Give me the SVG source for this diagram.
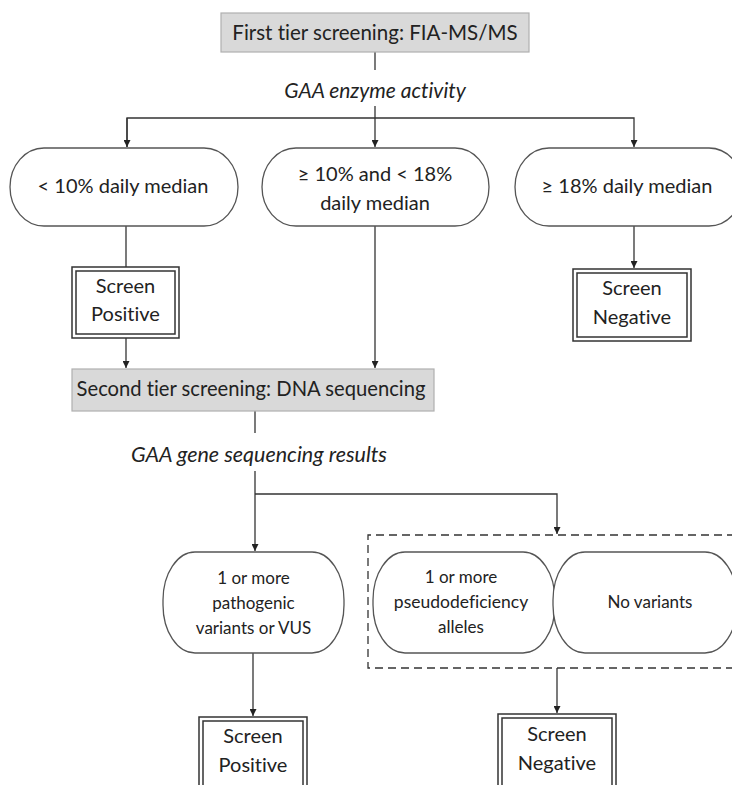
<svg xmlns="http://www.w3.org/2000/svg" width="732" height="785" viewBox="0 0 732 785">
<style>
  .t{font-family:Lato,"Liberation Sans",sans-serif;fill:#222;text-anchor:middle;font-variant-ligatures:none}
  .hdr{fill:#d9d9d9;stroke:#b0b0b0;stroke-width:1.2}
  .oval{fill:#fff;stroke:#555;stroke-width:1.3}
  .dbl{fill:#fff;stroke:#333;stroke-width:1.5}
  .ln{fill:none;stroke:#333;stroke-width:1.3}
  .it{font-style:italic}
</style>
<defs>
  <marker id="ah" viewBox="0 0 10 10" refX="10" refY="5" markerWidth="7" markerHeight="7" markerUnits="userSpaceOnUse" orient="auto">
    <path d="M0,0 L10,5 L0,10 z" fill="#222"/>
  </marker>
</defs>
<rect width="732" height="785" fill="#fff"/>

<g id="connectors">
  <line class="ln" x1="375" y1="52" x2="375" y2="70"/>
  <line class="ln" x1="375" y1="106" x2="375" y2="118"/>
  <polyline class="ln" points="127,147 127,118 634,118 634,147" marker-end="url(#ah)"/>
  <line class="ln" x1="127" y1="118" x2="127" y2="147" marker-end="url(#ah)"/>
  <line class="ln" x1="375" y1="118" x2="375" y2="147" marker-end="url(#ah)"/>
  <line class="ln" x1="126" y1="226" x2="126" y2="267"/>
  <line class="ln" x1="126" y1="338" x2="126" y2="368" marker-end="url(#ah)"/>
  <line class="ln" x1="375" y1="226" x2="375" y2="368" marker-end="url(#ah)"/>
  <line class="ln" x1="634" y1="226" x2="634" y2="268" marker-end="url(#ah)"/>
  <line class="ln" x1="255" y1="411" x2="255" y2="433"/>
  <line class="ln" x1="255" y1="471" x2="255" y2="551" marker-end="url(#ah)"/>
  <polyline class="ln" points="255,494 557,494 557,534" marker-end="url(#ah)"/>
  <line class="ln" x1="253" y1="653" x2="253" y2="716" marker-end="url(#ah)"/>
  <line class="ln" x1="557" y1="668" x2="557" y2="713" marker-end="url(#ah)"/>
</g>

<g id="first-tier">
  <rect class="hdr" x="221" y="13" width="308" height="39"/>
  <text class="t" x="375" y="40" font-size="20.5">First tier screening: FIA-MS/MS</text>
</g>
<g id="label-enzyme">
  <text class="t it" x="375" y="98" font-size="21">GAA enzyme activity</text>
</g>

<g id="lt10">
  <rect class="oval" x="10" y="148" width="228" height="78" rx="34" ry="39"/>
  <text class="t" x="123" y="193" font-size="20">&lt; 10% daily median</text>
</g>
<g id="mid">
  <rect class="oval" x="262" y="148" width="227" height="78" rx="34" ry="39"/>
  <text class="t" x="375" y="181" font-size="20">≥ 10% and &lt; 18%</text>
  <text class="t" x="375" y="210" font-size="20">daily median</text>
</g>
<g id="ge18">
  <rect class="oval" x="515" y="148" width="228" height="78" rx="34" ry="39"/>
  <text class="t" x="627" y="193" font-size="20">≥ 18% daily median</text>
</g>

<g id="screen-pos-1">
  <rect class="dbl" x="72" y="267" width="107" height="71"/>
  <rect class="dbl" x="76" y="271" width="99" height="63" stroke-width="1"/>
  <text class="t" x="125.5" y="293" font-size="20">Screen</text>
  <text class="t" x="125.5" y="321" font-size="20">Positive</text>
</g>
<g id="screen-neg-1">
  <rect class="dbl" x="573" y="269" width="118" height="72"/>
  <rect class="dbl" x="577" y="273" width="110" height="64" stroke-width="1"/>
  <text class="t" x="632" y="295" font-size="20">Screen</text>
  <text class="t" x="632" y="324" font-size="20">Negative</text>
</g>

<g id="second-tier">
  <rect class="hdr" x="72" y="369" width="362" height="42"/>
  <text class="t" x="251" y="396" font-size="20.2">Second tier screening: DNA sequencing</text>
</g>
<g id="label-gene">
  <text class="t it" x="259" y="462" font-size="21.5">GAA gene sequencing results</text>
</g>

<g id="group-neg">
  <path d="M735,535 L368,535 L368,668 L735,668" fill="none" stroke="#333" stroke-width="1.3" stroke-dasharray="8,5"/>
</g>

<g id="pathogenic">
  <rect class="oval" x="163" y="552" width="181" height="101" rx="32" ry="48"/>
  <text class="t" x="253.5" y="584" font-size="17">1 or more</text>
  <text class="t" x="253.5" y="609" font-size="17">pathogenic</text>
  <text class="t" x="253.5" y="634" font-size="17">variants or VUS</text>
</g>
<g id="pseudo">
  <rect class="oval" x="373" y="552" width="182" height="101" rx="32" ry="48"/>
  <text class="t" x="461" y="583" font-size="17">1 or more</text>
  <text class="t" x="461" y="608" font-size="17.5">pseudodeficiency</text>
  <text class="t" x="461" y="633" font-size="17">alleles</text>
</g>
<g id="novariants">
  <rect class="oval" x="553" y="552" width="184" height="101" rx="32" ry="48"/>
  <text class="t" x="650" y="608" font-size="17">No variants</text>
</g>

<g id="screen-pos-2">
  <rect class="dbl" x="199" y="717" width="108" height="75"/>
  <rect class="dbl" x="203" y="721" width="100" height="75" stroke-width="1"/>
  <text class="t" x="253" y="743" font-size="20">Screen</text>
  <text class="t" x="253" y="772" font-size="20">Positive</text>
</g>
<g id="screen-neg-2">
  <rect class="dbl" x="498" y="714" width="118" height="78"/>
  <rect class="dbl" x="502" y="718" width="110" height="78" stroke-width="1"/>
  <text class="t" x="557" y="741" font-size="20">Screen</text>
  <text class="t" x="557" y="770" font-size="20">Negative</text>
</g>
</svg>
